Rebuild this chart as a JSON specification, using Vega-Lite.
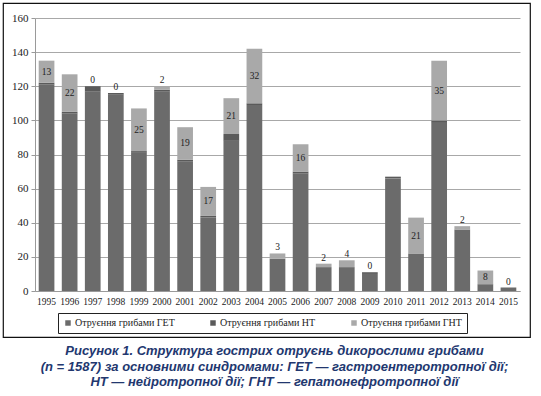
{
  "$schema": "https://vega.github.io/schema/vega-lite/v6.json",
  "width": 527,
  "height": 334,
  "padding": {"left": 3, "top": 3, "right": 8, "bottom": 0},
  "autosize": {"type": "pad"},
  "background": "white",
  "config": {"view": {"stroke": "#111111", "strokeWidth": 1.2}, "font": "Liberation Serif"},
  "title": {
    "text": ["Рисунок 1. Структура гострих отруєнь дикорослими грибами", "(n = 1587) за основними синдромами: ГЕТ — гастроентеротропної дії;", "НТ — нейротропної дії; ГНТ — гепатонефротропної дії"],
    "orient": "bottom",
    "anchor": "middle",
    "frame": "group",
    "font": "Liberation Sans",
    "fontSize": 13,
    "fontStyle": "italic",
    "fontWeight": "bold",
    "color": "#22376f",
    "lineHeight": 15.5,
    "offset": 8,
    "dx": 8
  },
  "data": {
    "values": [
      {"year": 1995, "type": "Отруєння грибами ГЕТ", "value": 121}, {"year": 1995, "type": "Отруєння грибами НТ", "value": 1}, {"year": 1995, "type": "Отруєння грибами ГНТ", "value": 13},
      {"year": 1996, "type": "Отруєння грибами ГЕТ", "value": 104}, {"year": 1996, "type": "Отруєння грибами НТ", "value": 1}, {"year": 1996, "type": "Отруєння грибами ГНТ", "value": 22},
      {"year": 1997, "type": "Отруєння грибами ГЕТ", "value": 117}, {"year": 1997, "type": "Отруєння грибами НТ", "value": 3}, {"year": 1997, "type": "Отруєння грибами ГНТ", "value": 0},
      {"year": 1998, "type": "Отруєння грибами ГЕТ", "value": 115}, {"year": 1998, "type": "Отруєння грибами НТ", "value": 1}, {"year": 1998, "type": "Отруєння грибами ГНТ", "value": 0},
      {"year": 1999, "type": "Отруєння грибами ГЕТ", "value": 81}, {"year": 1999, "type": "Отруєння грибами НТ", "value": 1}, {"year": 1999, "type": "Отруєння грибами ГНТ", "value": 25},
      {"year": 2000, "type": "Отруєння грибами ГЕТ", "value": 117}, {"year": 2000, "type": "Отруєння грибами НТ", "value": 1}, {"year": 2000, "type": "Отруєння грибами ГНТ", "value": 2},
      {"year": 2001, "type": "Отруєння грибами ГЕТ", "value": 76}, {"year": 2001, "type": "Отруєння грибами НТ", "value": 1}, {"year": 2001, "type": "Отруєння грибами ГНТ", "value": 19},
      {"year": 2002, "type": "Отруєння грибами ГЕТ", "value": 43}, {"year": 2002, "type": "Отруєння грибами НТ", "value": 1}, {"year": 2002, "type": "Отруєння грибами ГНТ", "value": 17},
      {"year": 2003, "type": "Отруєння грибами ГЕТ", "value": 88}, {"year": 2003, "type": "Отруєння грибами НТ", "value": 4}, {"year": 2003, "type": "Отруєння грибами ГНТ", "value": 21},
      {"year": 2004, "type": "Отруєння грибами ГЕТ", "value": 109}, {"year": 2004, "type": "Отруєння грибами НТ", "value": 1}, {"year": 2004, "type": "Отруєння грибами ГНТ", "value": 32},
      {"year": 2005, "type": "Отруєння грибами ГЕТ", "value": 19}, {"year": 2005, "type": "Отруєння грибами НТ", "value": 0}, {"year": 2005, "type": "Отруєння грибами ГНТ", "value": 3},
      {"year": 2006, "type": "Отруєння грибами ГЕТ", "value": 69}, {"year": 2006, "type": "Отруєння грибами НТ", "value": 1}, {"year": 2006, "type": "Отруєння грибами ГНТ", "value": 16},
      {"year": 2007, "type": "Отруєння грибами ГЕТ", "value": 14}, {"year": 2007, "type": "Отруєння грибами НТ", "value": 0}, {"year": 2007, "type": "Отруєння грибами ГНТ", "value": 2},
      {"year": 2008, "type": "Отруєння грибами ГЕТ", "value": 14}, {"year": 2008, "type": "Отруєння грибами НТ", "value": 0}, {"year": 2008, "type": "Отруєння грибами ГНТ", "value": 4},
      {"year": 2009, "type": "Отруєння грибами ГЕТ", "value": 10}, {"year": 2009, "type": "Отруєння грибами НТ", "value": 1}, {"year": 2009, "type": "Отруєння грибами ГНТ", "value": 0},
      {"year": 2010, "type": "Отруєння грибами ГЕТ", "value": 66}, {"year": 2010, "type": "Отруєння грибами НТ", "value": 1},
      {"year": 2011, "type": "Отруєння грибами ГЕТ", "value": 22}, {"year": 2011, "type": "Отруєння грибами НТ", "value": 0}, {"year": 2011, "type": "Отруєння грибами ГНТ", "value": 21},
      {"year": 2012, "type": "Отруєння грибами ГЕТ", "value": 99}, {"year": 2012, "type": "Отруєння грибами НТ", "value": 1}, {"year": 2012, "type": "Отруєння грибами ГНТ", "value": 35},
      {"year": 2013, "type": "Отруєння грибами ГЕТ", "value": 36}, {"year": 2013, "type": "Отруєння грибами НТ", "value": 0}, {"year": 2013, "type": "Отруєння грибами ГНТ", "value": 2},
      {"year": 2014, "type": "Отруєння грибами ГЕТ", "value": 4}, {"year": 2014, "type": "Отруєння грибами НТ", "value": 0}, {"year": 2014, "type": "Отруєння грибами ГНТ", "value": 8},
      {"year": 2015, "type": "Отруєння грибами ГЕТ", "value": 2}, {"year": 2015, "type": "Отруєння грибами НТ", "value": 0}, {"year": 2015, "type": "Отруєння грибами ГНТ", "value": 0}
    ]
  },
  "transform": [
    {"calculate": "datum.type === 'Отруєння грибами ГЕТ' ? 0 : (datum.type === 'Отруєння грибами НТ' ? 1 : 2)", "as": "ord"},
    {"joinaggregate": [{"op": "sum", "field": "value", "as": "total"}], "groupby": ["year"]}
  ],
  "layer": [
    {
      "mark": {"type": "bar"},
      "encoding": {
        "x": {
          "field": "year", "type": "ordinal", "title": null,
          "scale": {"range": [32, 517], "paddingInner": 0.32, "paddingOuter": 0.16},
          "axis": {"offset": -46, "ticks": false, "domainColor": "#9a9a9a", "labelAngle": 0, "labelFont": "Liberation Serif", "labelFontSize": 9.5, "labelColor": "#222222", "labelPadding": 5, "grid": false}
        },
        "y": {
          "field": "value", "type": "quantitative", "title": null,
          "scale": {"domain": [0, 160], "range": [288, 15], "nice": false},
          "axis": {"offset": -32, "values": [0, 20, 40, 60, 80, 100, 120, 140, 160], "grid": true, "gridColor": "#a8a8a8", "domainColor": "#9a9a9a", "tickColor": "#9a9a9a", "tickSize": 4, "labelFont": "Liberation Serif", "labelFontSize": 11, "labelColor": "#222222", "labelPadding": 3}
        },
        "color": {
          "field": "type", "type": "nominal",
          "scale": {"domain": ["Отруєння грибами ГЕТ", "Отруєння грибами НТ", "Отруєння грибами ГНТ"], "range": ["#6b6b6b", "#5a5a5a", "#a9a9a9"]},
          "legend": {"orient": "none", "legendX": 55, "legendY": 310, "direction": "horizontal", "columns": 3, "title": null, "symbolType": "square", "symbolSize": 30, "symbolStrokeWidth": 0, "labelFont": "Liberation Serif", "labelFontSize": 10, "labelColor": "#222222", "strokeColor": "#222222", "padding": 5, "columnPadding": 33, "labelOffset": 2}
        },
        "order": {"field": "ord", "type": "quantitative"}
      }
    },
    {
      "transform": [
        {"filter": "datum.type === 'Отруєння грибами ГНТ' && datum.value > 4"},
        {"calculate": "datum.total - datum.value / 2", "as": "mid"}
      ],
      "mark": {"type": "text", "baseline": "middle", "font": "Liberation Serif", "fontSize": 9.5, "color": "#222222"},
      "encoding": {
        "x": {"field": "year", "type": "ordinal", "title": null},
        "y": {"field": "mid", "type": "quantitative", "title": null},
        "text": {"field": "value", "type": "quantitative"}
      }
    },
    {
      "transform": [
        {"filter": "datum.type === 'Отруєння грибами ГНТ' && datum.value <= 4"}
      ],
      "mark": {"type": "text", "baseline": "bottom", "dy": -1, "font": "Liberation Serif", "fontSize": 9.5, "color": "#222222"},
      "encoding": {
        "x": {"field": "year", "type": "ordinal", "title": null},
        "y": {"field": "total", "type": "quantitative", "title": null},
        "text": {"field": "value", "type": "quantitative"}
      }
    }
  ]
}
